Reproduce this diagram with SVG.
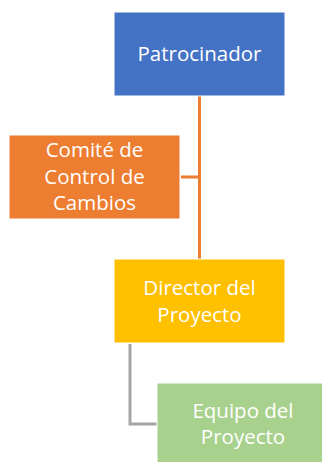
<svg xmlns="http://www.w3.org/2000/svg" width="322" height="462" viewBox="0 0 322 462">
<style>
text{font-family:"Open Sans","Liberation Sans",sans-serif;font-size:20.5px;fill:#fff;text-anchor:middle}
.b{stroke:#fff;stroke-width:1}
</style>
<rect width="322" height="462" fill="#fff"/>
<g id="connectors" fill="none" stroke-width="3">
<path d="M199.5 96V259" stroke="#ED7D31"/>
<path d="M181 177H199.5" stroke="#ED7D31"/>
<path d="M130 344V424H157" stroke="#A5A5A5"/>
</g>
<g id="patrocinador">
<rect class="b" x="114" y="12" width="171" height="84" fill="#4472C4"/>
<text x="199.5" y="61">Patrocinador</text>
</g>
<g id="comite">
<rect class="b" x="9" y="135" width="171" height="84" fill="#ED7D31"/>
<text x="94.5" y="157">Comité de</text>
<text x="94.5" y="184">Control de</text>
<text x="94.5" y="210">Cambios</text>
</g>
<g id="director">
<rect class="b" x="114" y="259" width="171" height="84" fill="#FFC000"/>
<text x="199.5" y="295">Director del</text>
<text x="199.5" y="322">Proyecto</text>
</g>
<g id="equipo">
<rect class="b" x="157" y="383" width="171" height="84" fill="#A9D18E"/>
<text x="243" y="418">Equipo del</text>
<text x="243" y="444">Proyecto</text>
</g>
</svg>
